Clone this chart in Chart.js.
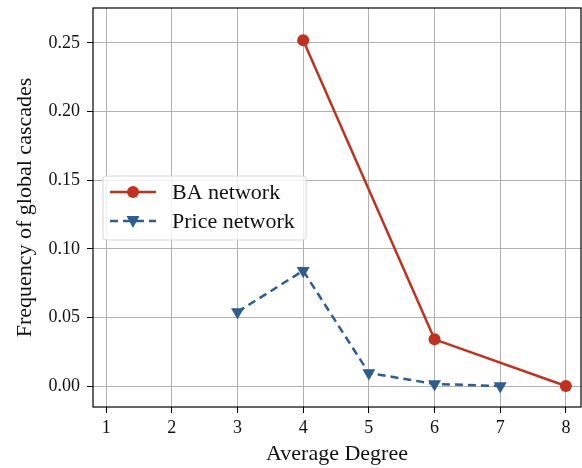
<!DOCTYPE html>
<html>
<head>
<meta charset="utf-8">
<script src="https://cdn.jsdelivr.net/npm/chart.js@4"></script>
<style>
  body { margin: 0; background: #fff; }
</style>
</head>
<body>
<canvas id="cascades" width="582" height="468"></canvas>
<script>
// data
var degrees = [1, 2, 3, 4, 5, 6, 7, 8];
var baDegree = [4, 6, 8];
var baValues = [0.252, 0.034, 0.0];
var priceDegree = [3, 4, 5, 6, 7];
var priceValues = [0.054, 0.084, 0.0095, 0.0015, 0.0];
var yTicks = [0, 0.05, 0.10, 0.15, 0.20, 0.25];

var red = '#c0311f';
var blue = '#2f5d8f';
var font = "'Liberation Serif', 'DejaVu Serif', serif";

function pts(xs, ys) {
    return xs.map(function (x, i) { return { x: x, y: ys[i] }; });
}

// wider spacing, closer to the TeX font of the original
var spacingPlugin = {
    id: 'spacing',
    beforeInit: function (chart) { chart.ctx.letterSpacing = '0.8px'; }
};

// black frame round the plot + legend box inside it
var framePlugin = {
    id: 'frame',
    afterDraw: function (chart) {
        var a = chart.chartArea, c = chart.ctx;
        c.save();
        c.strokeStyle = '#000';
        c.lineWidth = 1.2;
        c.strokeRect(a.left, a.top, a.right - a.left, a.bottom - a.top);

        // legend
        var bx = a.left + 10, by = a.top + 168, bw = 203, bh = 64;
        c.fillStyle = 'rgba(255,255,255,0.8)';
        c.strokeStyle = '#d6d6d6';
        c.lineWidth = 1;
        c.beginPath();
        c.roundRect(bx, by, bw, bh, 3);
        c.fill();
        c.stroke();

        chart.data.datasets.forEach(function (ds, i) {
            var ly = by + 16 + i * 29;
            c.strokeStyle = ds.borderColor;
            c.lineWidth = ds.borderWidth;
            c.setLineDash(ds.borderDash || []);
            c.beginPath();
            c.moveTo(bx + 7, ly);
            c.lineTo(bx + 53, ly);
            c.stroke();
            c.setLineDash([]);
            c.fillStyle = ds.backgroundColor;
            c.beginPath();
            if (ds.pointStyle === 'circle') {
                c.arc(bx + 30, ly, 6, 0, Math.PI * 2);
            } else {
                c.moveTo(bx + 23.5, ly - 5);
                c.lineTo(bx + 36.5, ly - 5);
                c.lineTo(bx + 30, ly + 7);
                c.closePath();
            }
            c.fill();
            c.fillStyle = '#111';
            c.font = '22px ' + font;
            c.textBaseline = 'middle';
            c.fillText(ds.label, bx + 69, ly + 1);
        });
        c.restore();
    }
};

var ctx = document.getElementById('cascades').getContext('2d');
var chart = new Chart(ctx, {
    type: 'line',
    data: {
        datasets: [{
            label: 'BA network',
            data: pts(baDegree, baValues),
            borderColor: red,
            backgroundColor: red,
            borderWidth: 2.5,
            pointStyle: 'circle',
            pointRadius: 6,
            pointBorderWidth: 0
        }, {
            label: 'Price network',
            data: pts(priceDegree, priceValues),
            borderColor: blue,
            backgroundColor: blue,
            borderWidth: 2.5,
            borderDash: [8, 5],
            pointStyle: 'triangle',
            rotation: 180,
            pointRadius: 7.5,
            pointBorderWidth: 0
        }]
    },
    options: {
        responsive: false,
        animation: false,
        layout: { autoPadding: false, padding: { top: 8, right: 1, left: 0, bottom: 0 } },
        plugins: { legend: { display: false }, tooltip: { enabled: false } },
        scales: {
            x: {
                type: 'linear',
                min: 0.8,
                max: 8.23,
                afterBuildTicks: function (s) { s.ticks = degrees.map(function (v) { return { value: v }; }); },
                afterFit: function (s) { s.height = 61; s.paddingLeft = 0; s.paddingRight = 0; },
                grid: { color: '#b0b0b0', lineWidth: 1, tickLength: 6, tickColor: '#000' },
                border: { display: false },
                ticks: { color: '#111', font: { family: font, size: 18 }, padding: 4 },
                title: { display: true, text: 'Average Degree', color: '#111', font: { family: font, size: 22 }, padding: { top: 0, bottom: 1 } }
            },
            y: {
                type: 'linear',
                min: -0.0153,
                max: 0.2755,
                afterBuildTicks: function (s) { s.ticks = yTicks.map(function (v) { return { value: v }; }); },
                afterFit: function (s) { s.width = 93; s.paddingTop = 0; s.paddingBottom = 0; },
                grid: { color: '#b0b0b0', lineWidth: 1, tickLength: 6, tickColor: '#000' },
                border: { display: false },
                ticks: {
                    color: '#111', font: { family: font, size: 18 }, padding: 7,
                    callback: function (v) { return v.toFixed(2); }
                },
                title: { display: true, text: 'Frequency of global cascades', color: '#111', font: { family: font, size: 22 }, padding: { top: 12, bottom: 0 } }
            }
        }
    },
    plugins: [spacingPlugin, framePlugin]
});
</script>
</body>
</html>
